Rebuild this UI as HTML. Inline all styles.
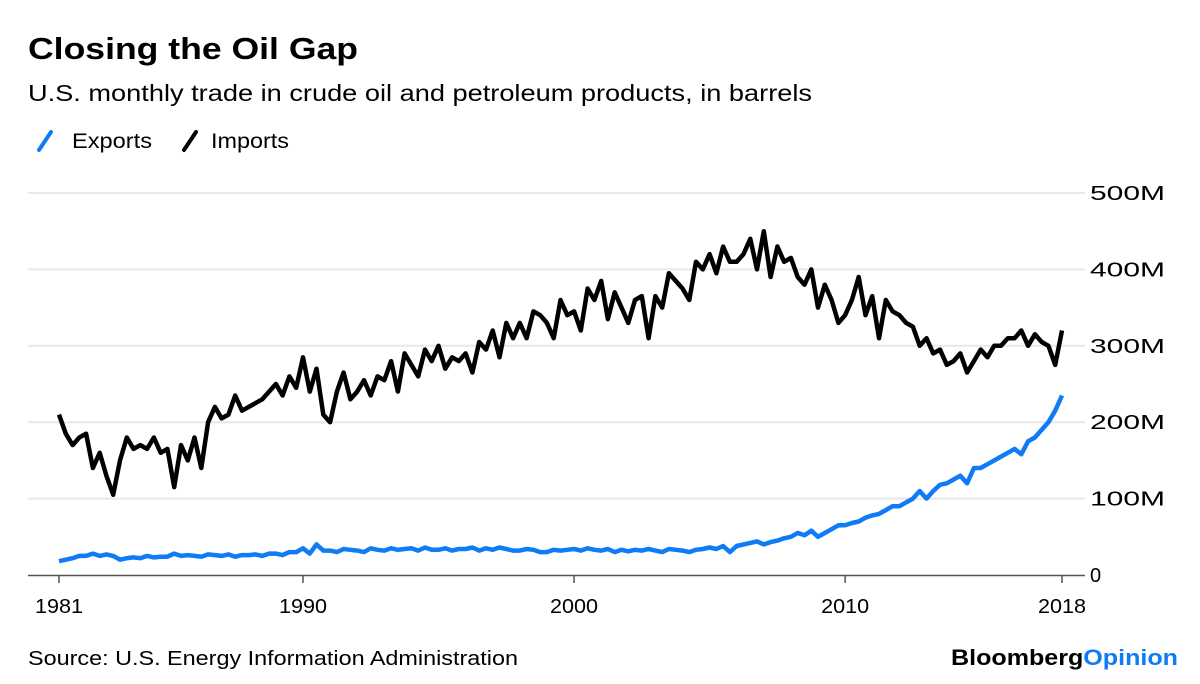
<!DOCTYPE html>
<html><head><meta charset="utf-8"><style>
body{margin:0;background:#fff;font-family:"Liberation Sans",sans-serif}
svg{display:block}
</style></head><body>
<svg id="c" width="1200" height="684" font-family="Liberation Sans, sans-serif">
<text x="28" y="59" font-size="31" font-weight="bold" fill="#000" textLength="330" lengthAdjust="spacingAndGlyphs">Closing the Oil Gap</text>
<text x="28" y="101" font-size="23" fill="#000" textLength="784" lengthAdjust="spacingAndGlyphs">U.S. monthly trade in crude oil and petroleum products, in barrels</text>
<g><line x1="39" y1="150" x2="51" y2="132" stroke="#0f7bf7" stroke-width="4" stroke-linecap="round"/><text x="72" y="148" font-size="21" fill="#000" textLength="80" lengthAdjust="spacingAndGlyphs">Exports</text></g>
<g><line x1="184" y1="150" x2="196" y2="132" stroke="#000" stroke-width="4" stroke-linecap="round"/><text x="211" y="148" font-size="21" fill="#000" textLength="78" lengthAdjust="spacingAndGlyphs">Imports</text></g>
<g id="grid"></g><g id="xax"></g>
<path id="imp" fill="none" stroke="#000" stroke-width="4.5" stroke-linejoin="round"/>
<path id="exp" fill="none" stroke="#0f7bf7" stroke-width="4.5" stroke-linejoin="round"/>
<text x="28" y="665" font-size="20" fill="#000" textLength="490" lengthAdjust="spacingAndGlyphs">Source: U.S. Energy Information Administration</text>
<text x="951" y="665" font-size="22" font-weight="bold" textLength="227" lengthAdjust="spacingAndGlyphs"><tspan fill="#000">Bloomberg</tspan><tspan fill="#0f7bf7">Opinion</tspan></text>
</svg>
<script>
const yTicks=[0,100,200,300,400,500];
const yLabels=["0","100M","200M","300M","400M","500M"];
const xTicks=[1981,1990,2000,2010,2018];
const imports=[210,185,170,180,185,140,160,130,105,150,180,165,170,165,180,160,165,115,170,150,180,140,200,220,205,210,235,215,220,225,230,240,250,235,260,245,285,240,270,210,200,240,265,230,240,255,235,260,255,280,240,290,275,260,295,280,300,270,285,280,290,265,305,295,320,285,330,310,330,310,345,340,330,310,360,340,345,320,375,360,385,335,370,350,330,360,365,310,365,350,395,385,375,360,410,400,420,395,430,410,410,420,440,400,450,390,430,410,415,390,380,400,350,380,360,330,340,360,390,340,365,310,360,345,340,330,325,300,310,290,295,275,280,290,265,280,295,285,300,300,310,310,320,300,315,305,300,275,320];
const exports_=[18,20,22,25,25,28,25,27,25,20,22,23,22,25,23,24,24,28,25,26,25,24,27,26,25,27,24,26,26,27,25,28,28,26,30,30,35,28,40,32,32,30,34,33,32,30,35,33,32,35,33,34,35,32,36,33,33,35,32,34,34,36,32,35,33,36,34,32,32,34,33,30,30,33,32,33,34,32,35,33,32,34,30,33,31,33,32,34,32,30,34,33,32,30,33,34,36,34,38,30,38,40,42,44,40,43,45,48,50,55,52,58,50,55,60,65,65,68,70,75,78,80,85,90,90,95,100,110,100,110,118,120,125,130,120,140,140,145,150,155,160,165,158,175,180,190,200,215,235];
const x=t=>59+(t-1981)*(1003/37), y=v=>575-v*0.764;
const NS="http://www.w3.org/2000/svg";
const g=document.getElementById('grid'), xa=document.getElementById('xax');
yTicks.forEach((v,i)=>{
 if(v>0){const l=document.createElementNS(NS,'line');
 
 
 l.setAttribute('x1',28);l.setAttribute('x2',1085);l.setAttribute('y1',y(v));l.setAttribute('y2',y(v));l.setAttribute('stroke','#e8e8e8');l.setAttribute('stroke-width',2);g.appendChild(l);}
 const t=document.createElementNS(NS,'text');
 
 
 t.setAttribute('x',1090);t.setAttribute('y',y(v)+7);t.setAttribute('font-size',20);
 if(v>0){t.setAttribute('textLength',v>=100?75:0);t.setAttribute('lengthAdjust','spacingAndGlyphs');}
 t.textContent=yLabels[i];g.appendChild(t);
});
const b=document.createElementNS(NS,'line');


b.setAttribute('x1',28);b.setAttribute('x2',1085);b.setAttribute('y1',575.5);b.setAttribute('y2',575.5);b.setAttribute('stroke','#555');b.setAttribute('stroke-width',1.5);xa.appendChild(b);
xTicks.forEach(v=>{
 const l=document.createElementNS(NS,'line');
 
 
 l.setAttribute('x1',x(v));l.setAttribute('x2',x(v));l.setAttribute('y1',575);l.setAttribute('y2',583);l.setAttribute('stroke','#555');l.setAttribute('stroke-width',1.5);xa.appendChild(l);
 const t=document.createElementNS(NS,'text');
 
 
 t.setAttribute('x',x(v)-24);t.setAttribute('y',613);t.setAttribute('font-size',20);t.setAttribute('textLength',48);t.setAttribute('lengthAdjust','spacingAndGlyphs');t.textContent=v;xa.appendChild(t);
});
const path=arr=>arr.map((v,i)=>(i?'L':'M')+x(1981+i/4).toFixed(1)+','+y(v).toFixed(1)).join('');
document.getElementById('imp').setAttribute('d',path(imports));
document.getElementById('exp').setAttribute('d',path(exports_));
</script>
</body></html>
